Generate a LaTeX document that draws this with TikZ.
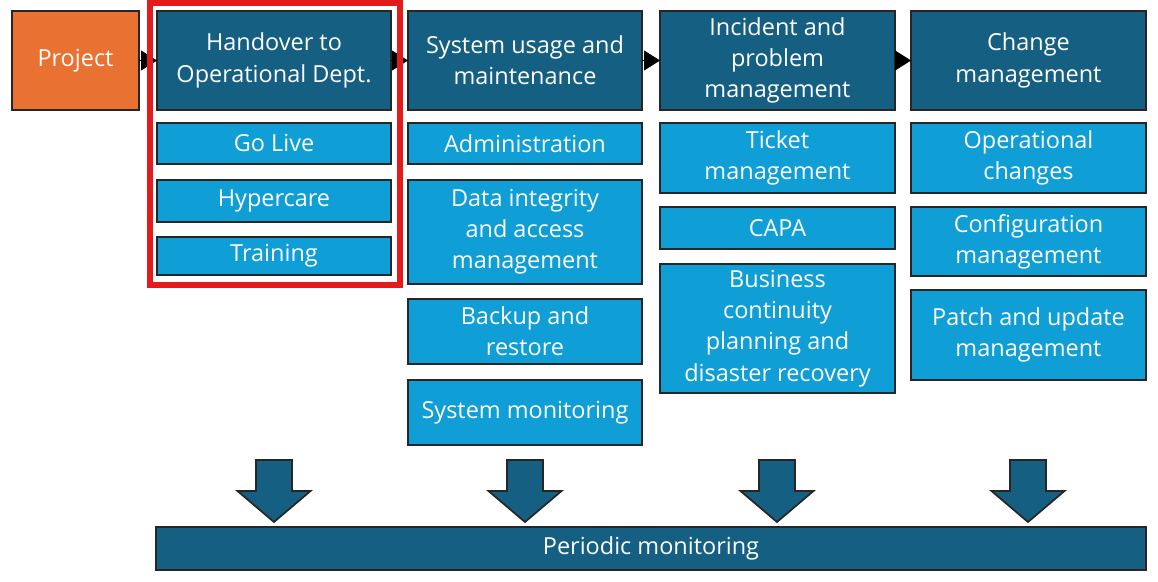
\documentclass[tikz,border=0pt]{standalone}
\usepackage{fontspec}
\setmainfont{Open Sans}
\usetikzlibrary{arrows.meta}
\definecolor{hdr}{HTML}{156082}
\definecolor{sub}{HTML}{0F9ED5}
\definecolor{org}{HTML}{E97132}
\definecolor{redf}{HTML}{E41B1B}
\newcommand\pbox[7]{\node[#1, minimum width={(#5-#3)*0.75pt}, minimum height={(#6-#4)*0.75pt}, anchor=north west] (#2) at (#3,#4) {#7};}
\begin{document}
\begin{tikzpicture}[x=0.75pt,y=-0.75pt,
  base/.style={draw=black!85, line width=1.3pt, inner sep=0pt, outer sep=0pt, text=white, align=center, font=\fontsize{17.6}{23.4}\selectfont},
  hbox/.style={base, fill=hdr},
  sbox/.style={base, fill=sub},
  obox/.style={base, fill=org},
  link/.style={line width=0.8pt, -{Triangle[length=12pt,width=15pt]}},
  blockarrow/.style={fill=hdr, draw=black!85, line width=1.3pt, line join=miter}]
\useasboundingbox (0,0) rectangle (1158,582);
% top row
\pbox{obox}{proj}{12}{11}{139}{110}{Project}
\pbox{hbox}{hand}{157}{11}{391}{110}{Handover to\\Operational Dept.}
\pbox{hbox}{sys}{408}{11}{642}{110}{System usage and\\maintenance}
\pbox{hbox}{inc}{660}{11}{895}{110}{Incident and\\problem\\management}
\pbox{hbox}{chg}{911}{11}{1146}{110}{Change\\management}
% column 1
\pbox{sbox}{golive}{157}{123}{391}{164}{Go Live}
\pbox{sbox}{hyper}{157}{180}{391}{222}{Hypercare}
\pbox{sbox}{train}{157}{237}{391}{275}{Training}
% column 2
\pbox{sbox}{admin}{408}{123}{642}{164}{Administration}
\pbox{sbox}{data}{408}{180}{642}{284}{Data integrity\\and access\\management}
\pbox{sbox}{backup}{408}{299}{642}{364}{Backup and\\restore}
\pbox{sbox}{mon}{408}{380}{642}{445}{System monitoring}
% column 3
\pbox{sbox}{ticket}{660}{123}{895}{193}{Ticket\\management}
\pbox{sbox}{capa}{660}{207}{895}{249}{CAPA}
\pbox{sbox}{bcp}{660}{264}{895}{393}{Business\\continuity\\planning and\\disaster recovery}
% column 4
\pbox{sbox}{opch}{911}{123}{1146}{193}{Operational\\changes}
\pbox{sbox}{conf}{911}{207}{1146}{276}{Configuration\\management}
\pbox{sbox}{patch}{911}{290}{1146}{380}{Patch and update\\management}
% links
\draw[link] (proj.east) -- (hand.west);
\draw[link] (hand.east) -- (sys.west);
\draw[link] (sys.east) -- (inc.west);
\draw[link] (inc.east) -- (chg.west);
% bar
\pbox{hbox}{bar}{156}{527}{1146}{570}{Periodic monitoring}
% block arrows
\foreach \c in {274,525,777,1028}{
  \draw[blockarrow] (\c-18,460) -- (\c+18,460) -- (\c+18,491) -- (\c+36.5,491) -- (\c,522) -- (\c-36.5,491) -- (\c-18,491) -- cycle;
}
% red frame
\draw[redf, line width=4.5pt] (150,3) rectangle (400,285);
\end{tikzpicture}
\end{document}
